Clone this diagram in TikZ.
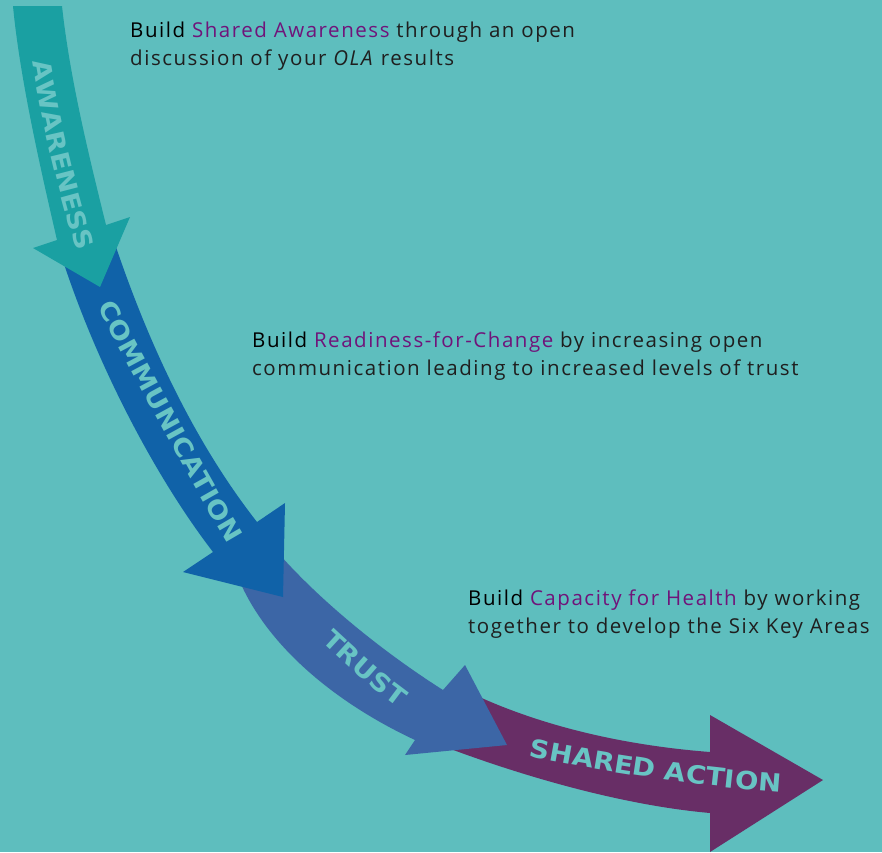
\documentclass[tikz,border=0pt]{standalone}
\usepackage{fontspec}
\usepackage{xcolor}
\usetikzlibrary{decorations.text}

\newfontfamily\notefamily{Open Sans}[LetterSpace=7.5]
\newfontfamily\bannerfamily{DejaVu Sans}[FakeStretch=1.1]
\newcommand\notefont{\notefamily\fontsize{20.5}{28}\selectfont}
\newcommand\bannerfont{\bannerfamily\bfseries\fontsize{25}{25}\selectfont}

\definecolor{bgteal}{RGB}{94,190,190}
\definecolor{awareteal}{RGB}{26,160,162}
\definecolor{commblue}{RGB}{16,98,168}
\definecolor{trustblue}{RGB}{60,102,166}
\definecolor{actionpurple}{RGB}{104,46,102}
\definecolor{arrowtext}{RGB}{104,196,196}
\definecolor{keyword}{RGB}{112,20,122}

\begin{document}
\begin{tikzpicture}[
    x=1pt, y=-1pt,
    aware/.style={fill=awareteal},
    comm/.style={fill=commblue},
    trust/.style={fill=trustblue},
    action/.style={fill=actionpurple},
    note/.style={anchor=north west, inner sep=0pt, align=left, font=\notefont, text=black!88},
    banner/.style={decorate, decoration={text along path, text={|\bannerfont|#1}, text color=arrowtext, text align=center, raise=-9pt}}
]

    % Fond
    \fill[bgteal] (0,0) rectangle (882,852);

    % Fleche 4 : shared action
    \fill[action] (475,695) .. controls (540,725) and (620,745) .. (710,752)
        -- (710,715) -- (823,780) -- (710,852) -- (710,813)
        .. controls (620,805) and (520,775) .. (448,748) -- cycle;

    % Fleche 3 : trust
    \fill[trust] (280,555) .. controls (320,600) and (380,650) .. (443,690)
        -- (465,665) -- (507,745) -- (405,755) -- (415,740)
        .. controls (340,705) and (270,650) .. (240,582) -- cycle;

    % Fleche 2 : communication
    \fill[comm] (112,235) .. controls (140,320) and (185,430) .. (257,522)
        -- (285,503) -- (283,597) -- (183,572) -- (213,552)
        .. controls (150,470) and (90,350) .. (58,245) -- cycle;

    % Fleche 1 : awareness
    \fill[aware] (13,6) -- (62,6) .. controls (70,80) and (90,160) .. (106,225)
        -- (130,217) -- (100,287) -- (33,248) -- (57,240)
        .. controls (42,175) and (20,80) .. (13,6) -- cycle;

    % Mots sur les fleches
    \path[banner=AWARENESS] (38,40) .. controls (50,120) and (68,195) .. (92,268);
    \path[banner=COMMUNICATION] (96,285) .. controls (142,372) and (194,470) .. (246,557);
    \path[banner=TRUST] (318,626) .. controls (350,655) and (380,685) .. (414,707);
    \path[banner={SHARED ACTION}] (520,746) .. controls (600,762) and (700,778) .. (792,784);

    % Textes
    \node[note] (noteaware) at (130,22) {\textcolor{black}{Build} \textcolor{keyword}{Shared Awareness} through an open\\
        discussion of your \textit{OLA} results};
    \node[note] (notecomm) at (252,332) {\textcolor{black}{Build} \textcolor{keyword}{Readiness-for-Change} by increasing open\\
        communication leading to increased levels of trust};
    \node[note] (noteaction) at (468,590) {\textcolor{black}{Build} \textcolor{keyword}{Capacity for Health} by working\\
        together to develop the Six Key Areas};

\end{tikzpicture}
\end{document}
